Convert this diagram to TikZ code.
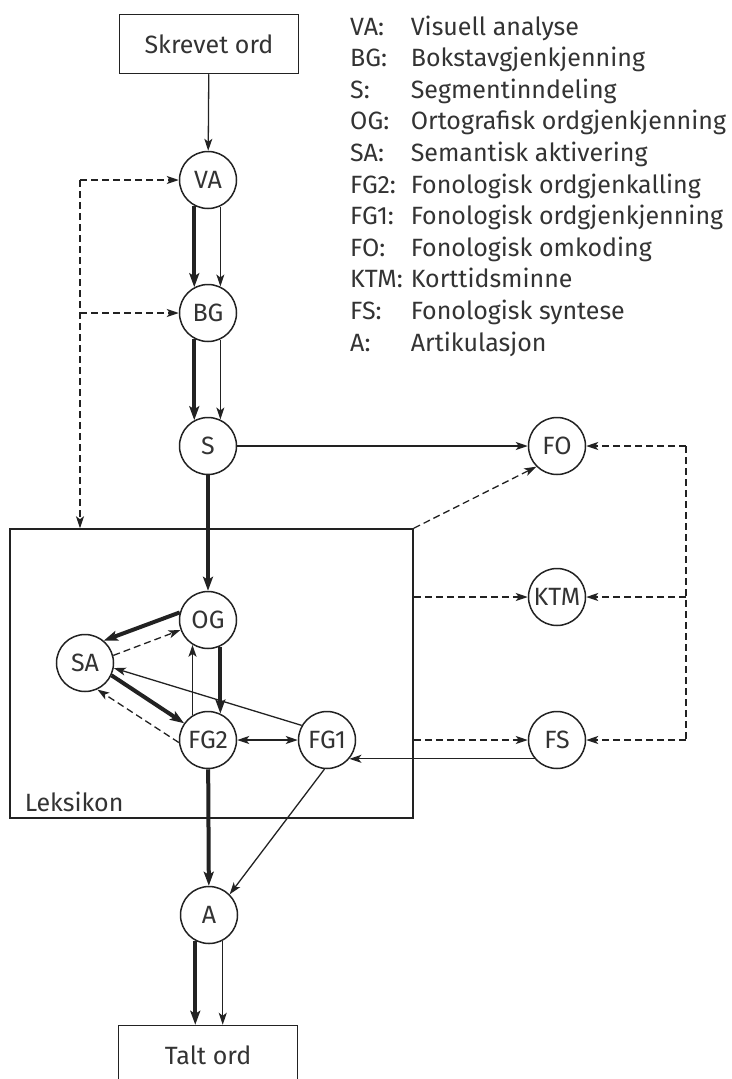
\documentclass[tikz,border=0pt]{standalone}
\usepackage{fontspec}
\setmainfont{Fira Sans}
\usetikzlibrary{arrows.meta}
\usepackage{xcolor}
\definecolor{inkgray}{HTML}{222222}
\definecolor{textgray}{HTML}{333333}

\begin{document}
\begin{tikzpicture}[x=1pt, y=-1pt,
    unit/.style={circle, draw=inkgray, line width=1.5pt, minimum size=57pt,
                 inner sep=0pt, text=textgray, font=\fontsize{25}{28}\selectfont},
    wordbox/.style={rectangle, draw=inkgray, line width=1.5pt, minimum width=179pt,
                    minimum height=59pt, text=textgray, font=\fontsize{25}{28}\selectfont},
    lexbox/.style={rectangle, draw=inkgray, line width=1.5pt, minimum width=403pt,
                   minimum height=289pt},
    thinarr/.style={-{Stealth[length=12pt, width=8pt, inset=3pt]}, line width=1.3pt, color=inkgray},
    thickarr/.style={-{Stealth[length=14pt, width=10pt, inset=3pt]}, line width=4pt, color=inkgray},
    dasharr/.style={thinarr, dash pattern=on 7pt off 4pt},
    dashline/.style={line width=1.3pt, color=inkgray, dash pattern=on 7pt off 4pt}
  ]
    \useasboundingbox (0,0) rectangle (731,1079);

    % main reading route
    \node[wordbox] (skrevet) at (209,44) {Skrevet ord};
    \node[unit] (va) at (208,180) {VA};
    \node[unit] (bg) at (208,313) {BG};
    \node[unit] (s) at (208,446) {S};

    % lexicon
    \node[lexbox] (lex) at (211.5,673.5) {};
    \node[anchor=south west, text=textgray, font=\fontsize{25}{28}\selectfont]
        (lexlabel) at ([xshift=12pt, yshift=3pt]lex.south west) {Leksikon};
    \node[unit] (og) at (208,620) {OG};
    \node[unit] (sa) at (85,663) {SA};
    \node[unit] (fg2) at (208,740) {FG2};
    \node[unit] (fg1) at (327,740) {FG1};

    \node[unit] (a) at (209,915) {A};
    \node[wordbox] (talt) at (208,1055) {Talt ord};

    % phonological side
    \node[unit] (fo) at (557,446) {FO};
    \node[unit] (ktm) at (557,597) {KTM};
    \node[unit] (fs) at (557,740) {FS};

    \draw[thinarr] (skrevet) -- (va);
    \draw[thickarr] (va.242) -- (bg.118);
    \draw[thinarr] (va.295) -- (bg.65);
    \draw[thickarr] (bg.242) -- (s.118);
    \draw[thinarr] (bg.295) -- (s.65);
    \draw[thickarr] (s) -- (og);
    \draw[thinarr] (s) -- (fo);

    % inside the lexicon
    \draw[thickarr] (og.165) -- (sa.50);
    \draw[dasharr] (sa.15) -- (og.200);
    \draw[thickarr] (sa.335) -- (fg2.145);
    \draw[dasharr] (fg2.185) -- (sa.295);
    \draw[thinarr] (fg1.150) -- (sa.350);
    \draw[thinarr] (fg2.122) -- (og.238);
    \draw[thickarr] (og.295) -- (fg2.65);
    \draw[thinarr, {Stealth[length=12pt, width=8pt, inset=3pt]}-{Stealth[length=12pt, width=8pt, inset=3pt]}] (fg2) -- (fg1);

    \draw[thickarr] (fg2) -- (a);
    \draw[thinarr] (fg1.265) -- (a.45);
    \draw[thickarr] (a.242) -- (a.242 |- talt.north);
    \draw[thinarr] (a.298) -- (a.298 |- talt.north);

    % feedback on the left
    \coordinate (vaside) at (80,180);
    \coordinate (bgside) at (80,313);
    \draw[dasharr] (vaside) -- (va);
    \draw[dasharr] (bgside) -- (bg);
    \draw[dasharr] (vaside) -- (vaside |- lex.north);

    % lexicon to the phonological side
    \draw[dasharr] (lex.north east) -- (fo.south west);
    \draw[dasharr] (lex.east |- ktm) -- (ktm);
    \draw[dasharr] (lex.east |- fs) -- (fs);
    \draw[thinarr] (fs.220) -- (fg1.320);

    % feedback on the right
    \coordinate (fotap) at (686,446);
    \coordinate (ktmtap) at (686,597);
    \coordinate (fstap) at (686,740);
    \draw[dashline] (fotap) -- (fstap);
    \draw[dasharr] (fotap) -- (fo);
    \draw[dasharr] (ktmtap) -- (ktm);
    \draw[dasharr] (fstap) -- (fs);

    % key
    \node[anchor=base west, inner sep=0pt, text=textgray, font=\fontsize{25}{31.6}\selectfont] (key) at (350,35) {%
      \begin{tabular}[t]{@{}l@{\hspace{8pt}}l@{}}
        VA: & Visuell analyse\\
        BG: & Bokstavgjenkjenning\\
        S: & Segmentinndeling\\
        OG: & Ortografisk ordgjenkjenning\\
        SA: & Semantisk aktivering\\
        FG2: & Fonologisk ordgjenkalling\\
        FG1: & Fonologisk ordgjenkjenning\\
        FO: & Fonologisk omkoding\\
        KTM: & Korttidsminne\\
        FS: & Fonologisk syntese\\
        A: & Artikulasjon
      \end{tabular}};
  \end{tikzpicture}
\end{document}
